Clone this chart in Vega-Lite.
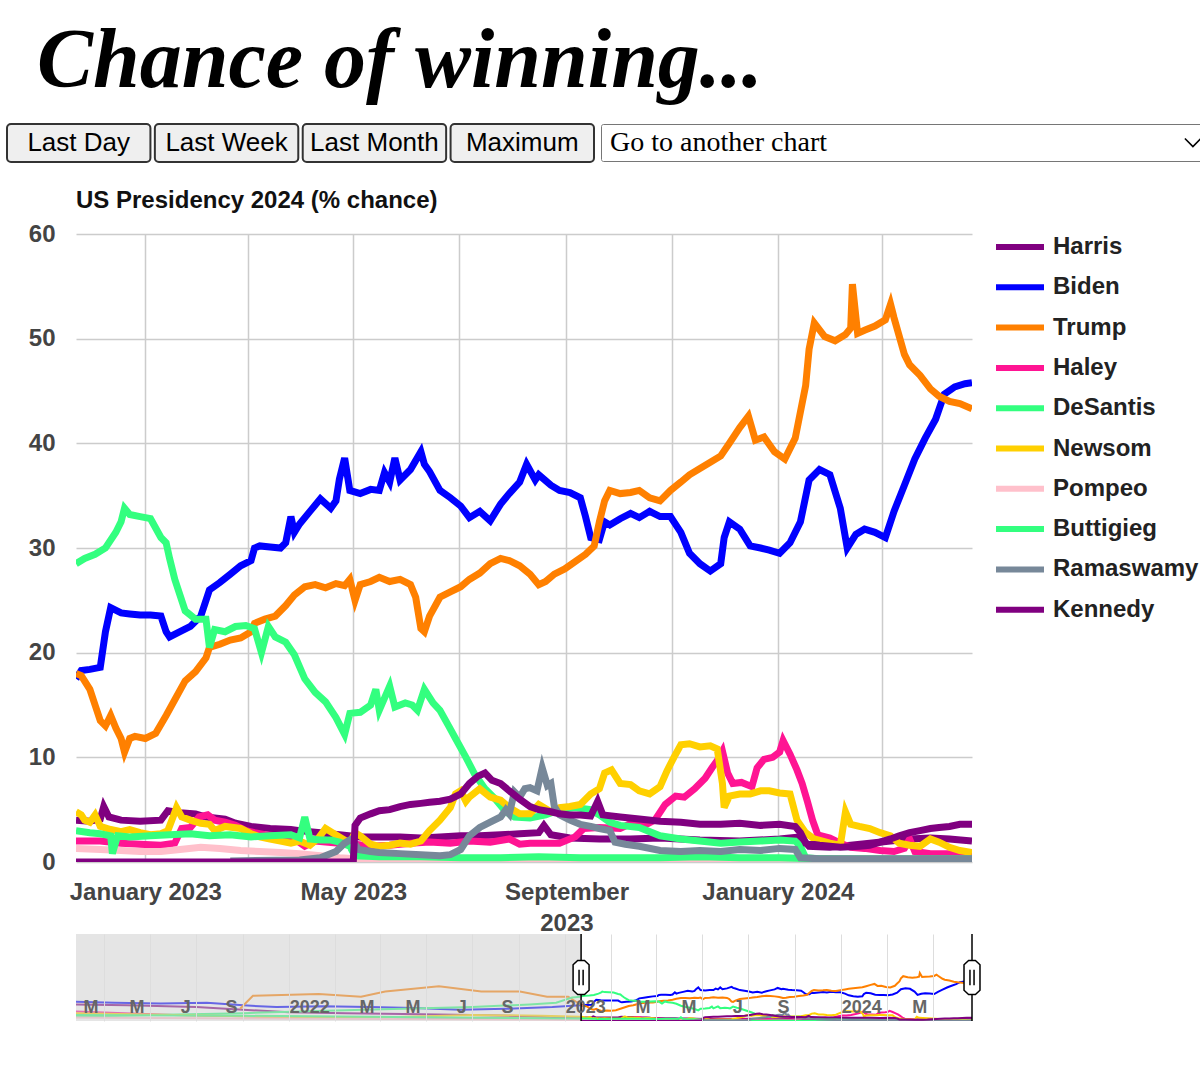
{
  "$schema": "https://vega.github.io/schema/vega-lite/v6.json",
  "background": "white",
  "padding": {"left": 6, "top": 20, "right": 0, "bottom": 0},
  "title": {"text": "Chance of winning...", "font": "Liberation Serif", "fontSize": 84, "fontStyle": "italic", "fontWeight": "bold", "color": "black", "anchor": "start", "frame": "bounds", "dx": 31, "offset": 18},
  "config": {"view": {"stroke": null}, "font": "Liberation Sans"},
  "datasets": {
    "recent": [
      {"date":"2022-11-22","name":"Harris","value":4},{"date":"2022-11-30","name":"Harris","value":3.9},{"date":"2022-12-06","name":"Harris","value":4.1},{"date":"2022-12-08","name":"Harris","value":5.3},{"date":"2022-12-11","name":"Harris","value":4.3},{"date":"2022-12-18","name":"Harris","value":4},{"date":"2022-12-29","name":"Harris","value":3.9},{"date":"2023-01-10","name":"Harris","value":4},{"date":"2023-01-14","name":"Harris","value":4.9},{"date":"2023-01-21","name":"Harris","value":4.7},{"date":"2023-01-30","name":"Harris","value":4.6},{"date":"2023-02-05","name":"Harris","value":4.3},{"date":"2023-02-16","name":"Harris","value":4.1},{"date":"2023-02-22","name":"Harris","value":3.7},{"date":"2023-03-03","name":"Harris","value":3.4},{"date":"2023-03-14","name":"Harris","value":3.2},{"date":"2023-03-26","name":"Harris","value":3.1},{"date":"2023-03-31","name":"Harris","value":3.0},{"date":"2023-04-12","name":"Harris","value":2.8},{"date":"2023-04-23","name":"Harris","value":2.6},{"date":"2023-05-05","name":"Harris","value":2.4},{"date":"2023-05-16","name":"Harris","value":2.4},{"date":"2023-05-28","name":"Harris","value":2.4},{"date":"2023-06-09","name":"Harris","value":2.3},{"date":"2023-06-20","name":"Harris","value":2.4},{"date":"2023-07-02","name":"Harris","value":2.5},{"date":"2023-07-13","name":"Harris","value":2.5},{"date":"2023-07-25","name":"Harris","value":2.6},{"date":"2023-08-05","name":"Harris","value":2.7},{"date":"2023-08-16","name":"Harris","value":2.8},{"date":"2023-08-19","name":"Harris","value":3.5},{"date":"2023-08-23","name":"Harris","value":2.6},{"date":"2023-09-03","name":"Harris","value":2.3},{"date":"2023-09-20","name":"Harris","value":2.2},{"date":"2023-10-08","name":"Harris","value":2.2},{"date":"2023-10-25","name":"Harris","value":2.3},{"date":"2023-11-17","name":"Harris","value":2.1},{"date":"2023-12-10","name":"Harris","value":2},{"date":"2024-01-02","name":"Harris","value":2.2},{"date":"2024-01-14","name":"Harris","value":2.4},{"date":"2024-01-19","name":"Harris","value":1.5},{"date":"2024-01-31","name":"Harris","value":1.4},{"date":"2024-02-12","name":"Harris","value":1.6},{"date":"2024-02-23","name":"Harris","value":1.8},{"date":"2024-03-06","name":"Harris","value":2},{"date":"2024-03-17","name":"Harris","value":2.2},{"date":"2024-03-29","name":"Harris","value":2.3},{"date":"2024-04-09","name":"Harris","value":2.2},{"date":"2024-04-22","name":"Harris","value":2},
      {"date":"2022-11-22","name":"Biden","value":17.5},{"date":"2022-11-25","name":"Biden","value":18.3},{"date":"2022-11-30","name":"Biden","value":18.4},{"date":"2022-12-06","name":"Biden","value":18.6},{"date":"2022-12-09","name":"Biden","value":22},{"date":"2022-12-12","name":"Biden","value":24.3},{"date":"2022-12-18","name":"Biden","value":23.8},{"date":"2022-12-23","name":"Biden","value":23.7},{"date":"2022-12-29","name":"Biden","value":23.6},{"date":"2023-01-04","name":"Biden","value":23.6},{"date":"2023-01-10","name":"Biden","value":23.5},{"date":"2023-01-13","name":"Biden","value":22},{"date":"2023-01-15","name":"Biden","value":21.5},{"date":"2023-01-21","name":"Biden","value":22},{"date":"2023-01-27","name":"Biden","value":22.5},{"date":"2023-02-02","name":"Biden","value":23.5},{"date":"2023-02-07","name":"Biden","value":26},{"date":"2023-02-13","name":"Biden","value":26.7},{"date":"2023-02-19","name":"Biden","value":27.5},{"date":"2023-02-25","name":"Biden","value":28.3},{"date":"2023-03-03","name":"Biden","value":28.8},{"date":"2023-03-05","name":"Biden","value":30},{"date":"2023-03-08","name":"Biden","value":30.2},{"date":"2023-03-14","name":"Biden","value":30.1},{"date":"2023-03-20","name":"Biden","value":30},{"date":"2023-03-23","name":"Biden","value":30.5},{"date":"2023-03-26","name":"Biden","value":33},{"date":"2023-03-28","name":"Biden","value":31.5},{"date":"2023-03-31","name":"Biden","value":32.3},{"date":"2023-04-06","name":"Biden","value":33.5},{"date":"2023-04-12","name":"Biden","value":34.7},{"date":"2023-04-18","name":"Biden","value":33.8},{"date":"2023-04-21","name":"Biden","value":34.5},{"date":"2023-04-23","name":"Biden","value":36.6},{"date":"2023-04-26","name":"Biden","value":38.6},{"date":"2023-04-29","name":"Biden","value":35.5},{"date":"2023-05-05","name":"Biden","value":35.2},{"date":"2023-05-11","name":"Biden","value":35.6},{"date":"2023-05-16","name":"Biden","value":35.5},{"date":"2023-05-19","name":"Biden","value":37.2},{"date":"2023-05-22","name":"Biden","value":36.3},{"date":"2023-05-25","name":"Biden","value":38.6},{"date":"2023-05-28","name":"Biden","value":36.5},{"date":"2023-06-03","name":"Biden","value":37.5},{"date":"2023-06-09","name":"Biden","value":39.2},{"date":"2023-06-11","name":"Biden","value":38},{"date":"2023-06-14","name":"Biden","value":37.3},{"date":"2023-06-20","name":"Biden","value":35.5},{"date":"2023-06-26","name":"Biden","value":34.8},{"date":"2023-07-02","name":"Biden","value":34},{"date":"2023-07-07","name":"Biden","value":32.9},{"date":"2023-07-13","name":"Biden","value":33.5},{"date":"2023-07-19","name":"Biden","value":32.6},{"date":"2023-07-25","name":"Biden","value":34.2},{"date":"2023-07-30","name":"Biden","value":35.2},{"date":"2023-08-05","name":"Biden","value":36.3},{"date":"2023-08-09","name":"Biden","value":38},{"date":"2023-08-14","name":"Biden","value":36.5},{"date":"2023-08-16","name":"Biden","value":37},{"date":"2023-08-23","name":"Biden","value":36},{"date":"2023-08-28","name":"Biden","value":35.5},{"date":"2023-09-03","name":"Biden","value":35.3},{"date":"2023-09-09","name":"Biden","value":34.8},{"date":"2023-09-12","name":"Biden","value":33},{"date":"2023-09-15","name":"Biden","value":31},{"date":"2023-09-20","name":"Biden","value":30.8},{"date":"2023-09-23","name":"Biden","value":32.5},{"date":"2023-09-26","name":"Biden","value":32.2},{"date":"2023-10-02","name":"Biden","value":32.8},{"date":"2023-10-08","name":"Biden","value":33.3},{"date":"2023-10-13","name":"Biden","value":32.9},{"date":"2023-10-19","name":"Biden","value":33.5},{"date":"2023-10-25","name":"Biden","value":33},{"date":"2023-10-31","name":"Biden","value":33},{"date":"2023-11-06","name":"Biden","value":31.5},{"date":"2023-11-11","name":"Biden","value":29.5},{"date":"2023-11-17","name":"Biden","value":28.5},{"date":"2023-11-23","name":"Biden","value":27.8},{"date":"2023-11-29","name":"Biden","value":28.5},{"date":"2023-12-01","name":"Biden","value":31},{"date":"2023-12-04","name":"Biden","value":32.5},{"date":"2023-12-10","name":"Biden","value":31.8},{"date":"2023-12-16","name":"Biden","value":30.2},{"date":"2023-12-22","name":"Biden","value":30},{"date":"2023-12-27","name":"Biden","value":29.8},{"date":"2024-01-02","name":"Biden","value":29.5},{"date":"2024-01-08","name":"Biden","value":30.5},{"date":"2024-01-14","name":"Biden","value":32.5},{"date":"2024-01-19","name":"Biden","value":36.5},{"date":"2024-01-25","name":"Biden","value":37.5},{"date":"2024-01-31","name":"Biden","value":37},{"date":"2024-02-06","name":"Biden","value":33.8},{"date":"2024-02-10","name":"Biden","value":30},{"date":"2024-02-15","name":"Biden","value":31.3},{"date":"2024-02-20","name":"Biden","value":31.8},{"date":"2024-02-26","name":"Biden","value":31.5},{"date":"2024-03-03","name":"Biden","value":31},{"date":"2024-03-08","name":"Biden","value":33.5},{"date":"2024-03-14","name":"Biden","value":36},{"date":"2024-03-20","name":"Biden","value":38.5},{"date":"2024-03-26","name":"Biden","value":40.5},{"date":"2024-04-01","name":"Biden","value":42.3},{"date":"2024-04-06","name":"Biden","value":44.7},{"date":"2024-04-12","name":"Biden","value":45.4},{"date":"2024-04-18","name":"Biden","value":45.7},{"date":"2024-04-22","name":"Biden","value":45.8},
      {"date":"2022-11-22","name":"Trump","value":18},{"date":"2022-11-25","name":"Trump","value":17.8},{"date":"2022-11-30","name":"Trump","value":16.5},{"date":"2022-12-03","name":"Trump","value":15},{"date":"2022-12-06","name":"Trump","value":13.5},{"date":"2022-12-09","name":"Trump","value":13},{"date":"2022-12-12","name":"Trump","value":14},{"date":"2022-12-15","name":"Trump","value":12.8},{"date":"2022-12-18","name":"Trump","value":11.8},{"date":"2022-12-20","name":"Trump","value":10.5},{"date":"2022-12-23","name":"Trump","value":11.8},{"date":"2022-12-26","name":"Trump","value":12},{"date":"2023-01-01","name":"Trump","value":11.8},{"date":"2023-01-07","name":"Trump","value":12.3},{"date":"2023-01-13","name":"Trump","value":14},{"date":"2023-01-18","name":"Trump","value":15.5},{"date":"2023-01-24","name":"Trump","value":17.3},{"date":"2023-01-30","name":"Trump","value":18.2},{"date":"2023-02-05","name":"Trump","value":19.5},{"date":"2023-02-07","name":"Trump","value":20.5},{"date":"2023-02-13","name":"Trump","value":20.8},{"date":"2023-02-19","name":"Trump","value":21.2},{"date":"2023-02-25","name":"Trump","value":21.4},{"date":"2023-03-03","name":"Trump","value":22},{"date":"2023-03-05","name":"Trump","value":22.8},{"date":"2023-03-11","name":"Trump","value":23.2},{"date":"2023-03-17","name":"Trump","value":23.5},{"date":"2023-03-23","name":"Trump","value":24.5},{"date":"2023-03-28","name":"Trump","value":25.5},{"date":"2023-04-03","name":"Trump","value":26.3},{"date":"2023-04-09","name":"Trump","value":26.5},{"date":"2023-04-15","name":"Trump","value":26.2},{"date":"2023-04-21","name":"Trump","value":26.6},{"date":"2023-04-26","name":"Trump","value":26.4},{"date":"2023-04-29","name":"Trump","value":27},{"date":"2023-05-02","name":"Trump","value":25},{"date":"2023-05-05","name":"Trump","value":26.5},{"date":"2023-05-11","name":"Trump","value":26.8},{"date":"2023-05-16","name":"Trump","value":27.2},{"date":"2023-05-22","name":"Trump","value":26.8},{"date":"2023-05-28","name":"Trump","value":27},{"date":"2023-06-03","name":"Trump","value":26.5},{"date":"2023-06-06","name":"Trump","value":25.3},{"date":"2023-06-09","name":"Trump","value":22.3},{"date":"2023-06-11","name":"Trump","value":22},{"date":"2023-06-14","name":"Trump","value":23.5},{"date":"2023-06-20","name":"Trump","value":25.3},{"date":"2023-06-26","name":"Trump","value":25.8},{"date":"2023-07-02","name":"Trump","value":26.3},{"date":"2023-07-07","name":"Trump","value":27},{"date":"2023-07-13","name":"Trump","value":27.6},{"date":"2023-07-19","name":"Trump","value":28.5},{"date":"2023-07-25","name":"Trump","value":29},{"date":"2023-07-30","name":"Trump","value":28.8},{"date":"2023-08-05","name":"Trump","value":28.3},{"date":"2023-08-11","name":"Trump","value":27.5},{"date":"2023-08-16","name":"Trump","value":26.5},{"date":"2023-08-20","name":"Trump","value":26.8},{"date":"2023-08-25","name":"Trump","value":27.5},{"date":"2023-08-31","name":"Trump","value":28},{"date":"2023-09-06","name":"Trump","value":28.7},{"date":"2023-09-12","name":"Trump","value":29.4},{"date":"2023-09-17","name":"Trump","value":30.2},{"date":"2023-09-20","name":"Trump","value":32.5},{"date":"2023-09-23","name":"Trump","value":34.5},{"date":"2023-09-26","name":"Trump","value":35.5},{"date":"2023-10-02","name":"Trump","value":35.2},{"date":"2023-10-08","name":"Trump","value":35.3},{"date":"2023-10-13","name":"Trump","value":35.5},{"date":"2023-10-19","name":"Trump","value":34.8},{"date":"2023-10-25","name":"Trump","value":34.5},{"date":"2023-10-31","name":"Trump","value":35.5},{"date":"2023-11-06","name":"Trump","value":36.3},{"date":"2023-11-11","name":"Trump","value":37},{"date":"2023-11-17","name":"Trump","value":37.6},{"date":"2023-11-23","name":"Trump","value":38.2},{"date":"2023-11-29","name":"Trump","value":38.8},{"date":"2023-12-04","name":"Trump","value":40},{"date":"2023-12-10","name":"Trump","value":41.5},{"date":"2023-12-15","name":"Trump","value":42.6},{"date":"2023-12-19","name":"Trump","value":40.3},{"date":"2023-12-24","name":"Trump","value":40.6},{"date":"2023-12-30","name":"Trump","value":39.2},{"date":"2024-01-05","name":"Trump","value":38.5},{"date":"2024-01-11","name":"Trump","value":40.5},{"date":"2024-01-14","name":"Trump","value":43},{"date":"2024-01-17","name":"Trump","value":45.5},{"date":"2024-01-19","name":"Trump","value":49},{"date":"2024-01-22","name":"Trump","value":51.5},{"date":"2024-01-28","name":"Trump","value":50.2},{"date":"2024-02-03","name":"Trump","value":49.8},{"date":"2024-02-09","name":"Trump","value":50.4},{"date":"2024-02-12","name":"Trump","value":51},{"date":"2024-02-13","name":"Trump","value":55.2},{"date":"2024-02-16","name":"Trump","value":50.5},{"date":"2024-02-20","name":"Trump","value":50.8},{"date":"2024-02-26","name":"Trump","value":51.2},{"date":"2024-03-03","name":"Trump","value":51.8},{"date":"2024-03-06","name":"Trump","value":53.3},{"date":"2024-03-08","name":"Trump","value":52},{"date":"2024-03-14","name":"Trump","value":48.5},{"date":"2024-03-17","name":"Trump","value":47.5},{"date":"2024-03-23","name":"Trump","value":46.5},{"date":"2024-03-29","name":"Trump","value":45.2},{"date":"2024-04-03","name":"Trump","value":44.5},{"date":"2024-04-09","name":"Trump","value":44},{"date":"2024-04-15","name":"Trump","value":43.8},{"date":"2024-04-22","name":"Trump","value":43.3},
      {"date":"2022-11-22","name":"Haley","value":2},{"date":"2022-12-06","name":"Haley","value":2},{"date":"2022-12-18","name":"Haley","value":1.8},{"date":"2022-12-29","name":"Haley","value":1.7},{"date":"2023-01-10","name":"Haley","value":1.6},{"date":"2023-01-18","name":"Haley","value":1.8},{"date":"2023-01-22","name":"Haley","value":3.2},{"date":"2023-01-27","name":"Haley","value":3.3},{"date":"2023-02-01","name":"Haley","value":4.3},{"date":"2023-02-06","name":"Haley","value":4.5},{"date":"2023-02-10","name":"Haley","value":4},{"date":"2023-02-16","name":"Haley","value":3.8},{"date":"2023-02-22","name":"Haley","value":3.5},{"date":"2023-02-28","name":"Haley","value":3},{"date":"2023-03-05","name":"Haley","value":2.8},{"date":"2023-03-11","name":"Haley","value":2.6},{"date":"2023-03-17","name":"Haley","value":2.5},{"date":"2023-03-23","name":"Haley","value":2.3},{"date":"2023-03-28","name":"Haley","value":2.2},{"date":"2023-04-03","name":"Haley","value":1.5},{"date":"2023-04-09","name":"Haley","value":2},{"date":"2023-04-15","name":"Haley","value":1.9},{"date":"2023-04-23","name":"Haley","value":1.8},{"date":"2023-05-02","name":"Haley","value":1.7},{"date":"2023-05-11","name":"Haley","value":1.5},{"date":"2023-05-22","name":"Haley","value":1.6},{"date":"2023-06-03","name":"Haley","value":1.8},{"date":"2023-06-14","name":"Haley","value":1.9},{"date":"2023-06-26","name":"Haley","value":1.8},{"date":"2023-07-07","name":"Haley","value":2},{"date":"2023-07-19","name":"Haley","value":1.9},{"date":"2023-07-30","name":"Haley","value":2.2},{"date":"2023-08-05","name":"Haley","value":1.7},{"date":"2023-08-11","name":"Haley","value":1.8},{"date":"2023-08-20","name":"Haley","value":1.8},{"date":"2023-08-28","name":"Haley","value":1.8},{"date":"2023-09-06","name":"Haley","value":2.4},{"date":"2023-09-11","name":"Haley","value":3.2},{"date":"2023-09-20","name":"Haley","value":3.3},{"date":"2023-10-02","name":"Haley","value":3.2},{"date":"2023-10-11","name":"Haley","value":3.9},{"date":"2023-10-16","name":"Haley","value":3.5},{"date":"2023-10-22","name":"Haley","value":4},{"date":"2023-10-28","name":"Haley","value":5.5},{"date":"2023-11-03","name":"Haley","value":6.3},{"date":"2023-11-08","name":"Haley","value":6.2},{"date":"2023-11-14","name":"Haley","value":7},{"date":"2023-11-20","name":"Haley","value":8},{"date":"2023-11-24","name":"Haley","value":9},{"date":"2023-11-27","name":"Haley","value":9.7},{"date":"2023-11-30","name":"Haley","value":10.6},{"date":"2023-12-03","name":"Haley","value":8.5},{"date":"2023-12-06","name":"Haley","value":7.5},{"date":"2023-12-11","name":"Haley","value":7.6},{"date":"2023-12-17","name":"Haley","value":7.2},{"date":"2023-12-20","name":"Haley","value":9},{"date":"2023-12-24","name":"Haley","value":9.8},{"date":"2023-12-29","name":"Haley","value":10},{"date":"2024-01-02","name":"Haley","value":10.5},{"date":"2024-01-04","name":"Haley","value":11.6},{"date":"2024-01-08","name":"Haley","value":10.3},{"date":"2024-01-12","name":"Haley","value":8.8},{"date":"2024-01-15","name":"Haley","value":7.5},{"date":"2024-01-18","name":"Haley","value":5.8},{"date":"2024-01-21","name":"Haley","value":4},{"date":"2024-01-24","name":"Haley","value":2.6},{"date":"2024-01-31","name":"Haley","value":2.3},{"date":"2024-02-06","name":"Haley","value":1.8},{"date":"2024-02-12","name":"Haley","value":1.4},{"date":"2024-02-20","name":"Haley","value":1.3},{"date":"2024-02-29","name":"Haley","value":1.1},{"date":"2024-03-08","name":"Haley","value":1},{"date":"2024-03-14","name":"Haley","value":1.3},{"date":"2024-03-17","name":"Haley","value":2.2},{"date":"2024-03-20","name":"Haley","value":1},{"date":"2024-03-29","name":"Haley","value":0.8},{"date":"2024-04-09","name":"Haley","value":0.8},{"date":"2024-04-22","name":"Haley","value":0.7},
      {"date":"2022-11-22","name":"DeSantis","value":28.5},{"date":"2022-11-27","name":"DeSantis","value":29},{"date":"2022-12-03","name":"DeSantis","value":29.4},{"date":"2022-12-09","name":"DeSantis","value":30},{"date":"2022-12-15","name":"DeSantis","value":31.5},{"date":"2022-12-18","name":"DeSantis","value":32.5},{"date":"2022-12-20","name":"DeSantis","value":33.8},{"date":"2022-12-23","name":"DeSantis","value":33.2},{"date":"2022-12-29","name":"DeSantis","value":33},{"date":"2023-01-04","name":"DeSantis","value":32.8},{"date":"2023-01-10","name":"DeSantis","value":31},{"date":"2023-01-13","name":"DeSantis","value":30.5},{"date":"2023-01-15","name":"DeSantis","value":29},{"date":"2023-01-18","name":"DeSantis","value":27},{"date":"2023-01-21","name":"DeSantis","value":25.5},{"date":"2023-01-24","name":"DeSantis","value":24},{"date":"2023-01-30","name":"DeSantis","value":23.2},{"date":"2023-02-05","name":"DeSantis","value":23.2},{"date":"2023-02-07","name":"DeSantis","value":20.5},{"date":"2023-02-10","name":"DeSantis","value":22.2},{"date":"2023-02-16","name":"DeSantis","value":22},{"date":"2023-02-22","name":"DeSantis","value":22.5},{"date":"2023-02-28","name":"DeSantis","value":22.6},{"date":"2023-03-05","name":"DeSantis","value":22.3},{"date":"2023-03-09","name":"DeSantis","value":20},{"date":"2023-03-13","name":"DeSantis","value":22.5},{"date":"2023-03-17","name":"DeSantis","value":21.5},{"date":"2023-03-23","name":"DeSantis","value":21},{"date":"2023-03-28","name":"DeSantis","value":19.8},{"date":"2023-04-03","name":"DeSantis","value":17.5},{"date":"2023-04-09","name":"DeSantis","value":16.2},{"date":"2023-04-15","name":"DeSantis","value":15.3},{"date":"2023-04-21","name":"DeSantis","value":13.8},{"date":"2023-04-26","name":"DeSantis","value":12.2},{"date":"2023-04-29","name":"DeSantis","value":14.2},{"date":"2023-05-05","name":"DeSantis","value":14.3},{"date":"2023-05-11","name":"DeSantis","value":15},{"date":"2023-05-14","name":"DeSantis","value":16.5},{"date":"2023-05-16","name":"DeSantis","value":14.5},{"date":"2023-05-22","name":"DeSantis","value":16.8},{"date":"2023-05-25","name":"DeSantis","value":14.8},{"date":"2023-05-31","name":"DeSantis","value":15.2},{"date":"2023-06-04","name":"DeSantis","value":15},{"date":"2023-06-07","name":"DeSantis","value":14.5},{"date":"2023-06-11","name":"DeSantis","value":16.5},{"date":"2023-06-16","name":"DeSantis","value":15.2},{"date":"2023-06-20","name":"DeSantis","value":14.5},{"date":"2023-06-25","name":"DeSantis","value":13},{"date":"2023-06-29","name":"DeSantis","value":11.8},{"date":"2023-07-05","name":"DeSantis","value":10},{"date":"2023-07-10","name":"DeSantis","value":8.4},{"date":"2023-07-16","name":"DeSantis","value":7},{"date":"2023-07-22","name":"DeSantis","value":6},{"date":"2023-07-28","name":"DeSantis","value":4.8},{"date":"2023-08-02","name":"DeSantis","value":4.3},{"date":"2023-08-11","name":"DeSantis","value":4.2},{"date":"2023-08-20","name":"DeSantis","value":4.5},{"date":"2023-08-28","name":"DeSantis","value":5},{"date":"2023-09-06","name":"DeSantis","value":5.2},{"date":"2023-09-15","name":"DeSantis","value":5},{"date":"2023-09-20","name":"DeSantis","value":4.5},{"date":"2023-09-26","name":"DeSantis","value":3.8},{"date":"2023-10-02","name":"DeSantis","value":3.5},{"date":"2023-10-13","name":"DeSantis","value":3.3},{"date":"2023-10-25","name":"DeSantis","value":2.5},{"date":"2023-11-06","name":"DeSantis","value":2.2},{"date":"2023-11-17","name":"DeSantis","value":2},{"date":"2023-11-29","name":"DeSantis","value":1.8},{"date":"2023-12-10","name":"DeSantis","value":1.9},{"date":"2023-12-22","name":"DeSantis","value":2},{"date":"2024-01-02","name":"DeSantis","value":2.1},{"date":"2024-01-11","name":"DeSantis","value":2},{"date":"2024-01-14","name":"DeSantis","value":1.5},{"date":"2024-01-17","name":"DeSantis","value":0.4},{"date":"2024-01-25","name":"DeSantis","value":0.3},{"date":"2024-02-12","name":"DeSantis","value":0.2},{"date":"2024-03-11","name":"DeSantis","value":0.2},{"date":"2024-04-22","name":"DeSantis","value":0.2},
      {"date":"2022-11-22","name":"Newsom","value":4.8},{"date":"2022-11-25","name":"Newsom","value":4.5},{"date":"2022-11-27","name":"Newsom","value":4},{"date":"2022-11-30","name":"Newsom","value":3.8},{"date":"2022-12-03","name":"Newsom","value":4.5},{"date":"2022-12-06","name":"Newsom","value":3.4},{"date":"2022-12-12","name":"Newsom","value":3.1},{"date":"2022-12-18","name":"Newsom","value":2.9},{"date":"2022-12-23","name":"Newsom","value":3.1},{"date":"2022-12-29","name":"Newsom","value":2.8},{"date":"2023-01-04","name":"Newsom","value":2.6},{"date":"2023-01-10","name":"Newsom","value":2.7},{"date":"2023-01-14","name":"Newsom","value":3},{"date":"2023-01-17","name":"Newsom","value":4.3},{"date":"2023-01-19","name":"Newsom","value":5.2},{"date":"2023-01-22","name":"Newsom","value":4.3},{"date":"2023-01-27","name":"Newsom","value":4},{"date":"2023-02-02","name":"Newsom","value":3.7},{"date":"2023-02-07","name":"Newsom","value":3.6},{"date":"2023-02-10","name":"Newsom","value":3},{"date":"2023-02-16","name":"Newsom","value":3.4},{"date":"2023-02-25","name":"Newsom","value":3.2},{"date":"2023-03-03","name":"Newsom","value":2.7},{"date":"2023-03-08","name":"Newsom","value":2.4},{"date":"2023-03-14","name":"Newsom","value":2.2},{"date":"2023-03-20","name":"Newsom","value":2},{"date":"2023-03-26","name":"Newsom","value":1.8},{"date":"2023-03-31","name":"Newsom","value":2},{"date":"2023-04-06","name":"Newsom","value":1.6},{"date":"2023-04-11","name":"Newsom","value":2.3},{"date":"2023-04-15","name":"Newsom","value":3.2},{"date":"2023-04-19","name":"Newsom","value":2.8},{"date":"2023-04-23","name":"Newsom","value":2.4},{"date":"2023-04-29","name":"Newsom","value":1.8},{"date":"2023-05-02","name":"Newsom","value":2.8},{"date":"2023-05-05","name":"Newsom","value":2.5},{"date":"2023-05-11","name":"Newsom","value":1.7},{"date":"2023-05-16","name":"Newsom","value":1.5},{"date":"2023-05-22","name":"Newsom","value":1.6},{"date":"2023-05-28","name":"Newsom","value":1.8},{"date":"2023-06-03","name":"Newsom","value":1.7},{"date":"2023-06-09","name":"Newsom","value":2},{"date":"2023-06-14","name":"Newsom","value":3},{"date":"2023-06-20","name":"Newsom","value":4},{"date":"2023-06-26","name":"Newsom","value":5.2},{"date":"2023-06-29","name":"Newsom","value":6.5},{"date":"2023-07-02","name":"Newsom","value":6.8},{"date":"2023-07-05","name":"Newsom","value":5.8},{"date":"2023-07-07","name":"Newsom","value":6.2},{"date":"2023-07-13","name":"Newsom","value":7},{"date":"2023-07-19","name":"Newsom","value":6.2},{"date":"2023-07-25","name":"Newsom","value":5.9},{"date":"2023-07-30","name":"Newsom","value":5.2},{"date":"2023-08-05","name":"Newsom","value":4.6},{"date":"2023-08-11","name":"Newsom","value":4.6},{"date":"2023-08-16","name":"Newsom","value":5.5},{"date":"2023-08-23","name":"Newsom","value":4.8},{"date":"2023-08-28","name":"Newsom","value":5.2},{"date":"2023-09-03","name":"Newsom","value":5.3},{"date":"2023-09-09","name":"Newsom","value":5.5},{"date":"2023-09-15","name":"Newsom","value":6.5},{"date":"2023-09-20","name":"Newsom","value":7},{"date":"2023-09-23","name":"Newsom","value":8.5},{"date":"2023-09-27","name":"Newsom","value":8.8},{"date":"2023-10-02","name":"Newsom","value":7.5},{"date":"2023-10-08","name":"Newsom","value":7.4},{"date":"2023-10-13","name":"Newsom","value":6.8},{"date":"2023-10-19","name":"Newsom","value":6.5},{"date":"2023-10-25","name":"Newsom","value":7.2},{"date":"2023-10-29","name":"Newsom","value":8.7},{"date":"2023-11-02","name":"Newsom","value":10},{"date":"2023-11-06","name":"Newsom","value":11.2},{"date":"2023-11-11","name":"Newsom","value":11.3},{"date":"2023-11-17","name":"Newsom","value":11},{"date":"2023-11-23","name":"Newsom","value":11.1},{"date":"2023-11-27","name":"Newsom","value":10.8},{"date":"2023-11-30","name":"Newsom","value":7.5},{"date":"2023-12-01","name":"Newsom","value":5.2},{"date":"2023-12-04","name":"Newsom","value":6.3},{"date":"2023-12-10","name":"Newsom","value":6.5},{"date":"2023-12-16","name":"Newsom","value":6.5},{"date":"2023-12-22","name":"Newsom","value":6.8},{"date":"2023-12-27","name":"Newsom","value":6.8},{"date":"2024-01-02","name":"Newsom","value":6.6},{"date":"2024-01-08","name":"Newsom","value":6.5},{"date":"2024-01-12","name":"Newsom","value":4},{"date":"2024-01-17","name":"Newsom","value":2.8},{"date":"2024-01-22","name":"Newsom","value":2.2},{"date":"2024-01-31","name":"Newsom","value":1.8},{"date":"2024-02-06","name":"Newsom","value":1.6},{"date":"2024-02-09","name":"Newsom","value":4.8},{"date":"2024-02-12","name":"Newsom","value":3.6},{"date":"2024-02-17","name":"Newsom","value":3.4},{"date":"2024-02-23","name":"Newsom","value":3.2},{"date":"2024-02-29","name":"Newsom","value":2.8},{"date":"2024-03-06","name":"Newsom","value":2.5},{"date":"2024-03-11","name":"Newsom","value":1.8},{"date":"2024-03-17","name":"Newsom","value":1.6},{"date":"2024-03-23","name":"Newsom","value":1.5},{"date":"2024-03-29","name":"Newsom","value":2.2},{"date":"2024-04-03","name":"Newsom","value":1.9},{"date":"2024-04-09","name":"Newsom","value":1.4},{"date":"2024-04-15","name":"Newsom","value":1.1},{"date":"2024-04-22","name":"Newsom","value":0.9},
      {"date":"2022-11-22","name":"Pompeo","value":1.3},{"date":"2022-12-06","name":"Pompeo","value":1.2},{"date":"2022-12-18","name":"Pompeo","value":1.1},{"date":"2022-12-29","name":"Pompeo","value":1.0},{"date":"2023-01-10","name":"Pompeo","value":1.0},{"date":"2023-01-21","name":"Pompeo","value":1.2},{"date":"2023-02-02","name":"Pompeo","value":1.4},{"date":"2023-02-13","name":"Pompeo","value":1.3},{"date":"2023-02-25","name":"Pompeo","value":1.1},{"date":"2023-03-08","name":"Pompeo","value":1.0},{"date":"2023-03-20","name":"Pompeo","value":0.9},{"date":"2023-03-31","name":"Pompeo","value":0.8},{"date":"2023-04-12","name":"Pompeo","value":0.6},{"date":"2023-04-23","name":"Pompeo","value":0.4},{"date":"2023-05-02","name":"Pompeo","value":0.3},{"date":"2023-05-28","name":"Pompeo","value":0.2},{"date":"2023-07-25","name":"Pompeo","value":0.2},{"date":"2023-09-20","name":"Pompeo","value":0.2},{"date":"2023-11-17","name":"Pompeo","value":0.2},{"date":"2024-01-14","name":"Pompeo","value":0.2},{"date":"2024-04-22","name":"Pompeo","value":0.2},
      {"date":"2022-11-22","name":"Buttigieg","value":3},{"date":"2022-11-30","name":"Buttigieg","value":2.8},{"date":"2022-12-06","name":"Buttigieg","value":2.7},{"date":"2022-12-12","name":"Buttigieg","value":2.5},{"date":"2022-12-13","name":"Buttigieg","value":0.8},{"date":"2022-12-16","name":"Buttigieg","value":2.5},{"date":"2022-12-23","name":"Buttigieg","value":2.4},{"date":"2023-01-04","name":"Buttigieg","value":2.5},{"date":"2023-01-15","name":"Buttigieg","value":2.6},{"date":"2023-01-27","name":"Buttigieg","value":2.7},{"date":"2023-02-07","name":"Buttigieg","value":2.5},{"date":"2023-02-19","name":"Buttigieg","value":2.6},{"date":"2023-03-03","name":"Buttigieg","value":2.4},{"date":"2023-03-14","name":"Buttigieg","value":2.5},{"date":"2023-03-26","name":"Buttigieg","value":2.6},{"date":"2023-03-31","name":"Buttigieg","value":2.3},{"date":"2023-04-03","name":"Buttigieg","value":4.3},{"date":"2023-04-06","name":"Buttigieg","value":2.2},{"date":"2023-04-12","name":"Buttigieg","value":2.1},{"date":"2023-04-18","name":"Buttigieg","value":2.1},{"date":"2023-04-23","name":"Buttigieg","value":1.9},{"date":"2023-04-29","name":"Buttigieg","value":1.5},{"date":"2023-05-02","name":"Buttigieg","value":0.6},{"date":"2023-05-16","name":"Buttigieg","value":0.5},{"date":"2023-06-09","name":"Buttigieg","value":0.5},{"date":"2023-07-02","name":"Buttigieg","value":0.4},{"date":"2023-07-25","name":"Buttigieg","value":0.4},{"date":"2023-08-16","name":"Buttigieg","value":0.5},{"date":"2023-09-09","name":"Buttigieg","value":0.4},{"date":"2023-10-02","name":"Buttigieg","value":0.4},{"date":"2023-10-25","name":"Buttigieg","value":0.4},{"date":"2023-11-17","name":"Buttigieg","value":0.5},{"date":"2023-12-10","name":"Buttigieg","value":0.4},{"date":"2024-01-02","name":"Buttigieg","value":0.4},{"date":"2024-01-25","name":"Buttigieg","value":0.3},{"date":"2024-03-11","name":"Buttigieg","value":0.3},{"date":"2024-04-22","name":"Buttigieg","value":0.3},
      {"date":"2023-02-19","name":"Ramaswamy","value":0.1},{"date":"2023-03-31","name":"Ramaswamy","value":0.2},{"date":"2023-04-12","name":"Ramaswamy","value":0.4},{"date":"2023-04-21","name":"Ramaswamy","value":1},{"date":"2023-04-26","name":"Ramaswamy","value":1.8},{"date":"2023-04-30","name":"Ramaswamy","value":2.2},{"date":"2023-05-04","name":"Ramaswamy","value":1.2},{"date":"2023-05-11","name":"Ramaswamy","value":1},{"date":"2023-05-16","name":"Ramaswamy","value":0.9},{"date":"2023-05-28","name":"Ramaswamy","value":0.8},{"date":"2023-06-09","name":"Ramaswamy","value":0.7},{"date":"2023-06-20","name":"Ramaswamy","value":0.6},{"date":"2023-06-26","name":"Ramaswamy","value":0.7},{"date":"2023-07-02","name":"Ramaswamy","value":1.2},{"date":"2023-07-07","name":"Ramaswamy","value":2.5},{"date":"2023-07-13","name":"Ramaswamy","value":3.3},{"date":"2023-07-19","name":"Ramaswamy","value":3.8},{"date":"2023-07-25","name":"Ramaswamy","value":4.3},{"date":"2023-07-28","name":"Ramaswamy","value":5},{"date":"2023-07-30","name":"Ramaswamy","value":4.6},{"date":"2023-08-02","name":"Ramaswamy","value":6.7},{"date":"2023-08-05","name":"Ramaswamy","value":6.2},{"date":"2023-08-08","name":"Ramaswamy","value":7},{"date":"2023-08-11","name":"Ramaswamy","value":7.1},{"date":"2023-08-15","name":"Ramaswamy","value":6.8},{"date":"2023-08-18","name":"Ramaswamy","value":9},{"date":"2023-08-21","name":"Ramaswamy","value":7.3},{"date":"2023-08-23","name":"Ramaswamy","value":7.5},{"date":"2023-08-25","name":"Ramaswamy","value":5.3},{"date":"2023-08-28","name":"Ramaswamy","value":4.5},{"date":"2023-09-03","name":"Ramaswamy","value":4},{"date":"2023-09-09","name":"Ramaswamy","value":3.6},{"date":"2023-09-15","name":"Ramaswamy","value":3.4},{"date":"2023-09-20","name":"Ramaswamy","value":3.2},{"date":"2023-09-26","name":"Ramaswamy","value":3},{"date":"2023-09-29","name":"Ramaswamy","value":1.9},{"date":"2023-10-05","name":"Ramaswamy","value":1.7},{"date":"2023-10-13","name":"Ramaswamy","value":1.5},{"date":"2023-10-25","name":"Ramaswamy","value":1.1},{"date":"2023-11-06","name":"Ramaswamy","value":1},{"date":"2023-11-17","name":"Ramaswamy","value":1.1},{"date":"2023-11-29","name":"Ramaswamy","value":1},{"date":"2023-12-10","name":"Ramaswamy","value":1.2},{"date":"2023-12-22","name":"Ramaswamy","value":1.1},{"date":"2024-01-02","name":"Ramaswamy","value":1.3},{"date":"2024-01-11","name":"Ramaswamy","value":1.2},{"date":"2024-01-14","name":"Ramaswamy","value":0.4},{"date":"2024-01-25","name":"Ramaswamy","value":0.3},{"date":"2024-04-22","name":"Ramaswamy","value":0.3},
      {"date":"2022-11-22","name":"Kennedy","value":0},{"date":"2023-04-29","name":"Kennedy","value":0},{"date":"2023-05-01","name":"Kennedy","value":0},{"date":"2023-05-02","name":"Kennedy","value":3.5},{"date":"2023-05-05","name":"Kennedy","value":4.2},{"date":"2023-05-11","name":"Kennedy","value":4.6},{"date":"2023-05-16","name":"Kennedy","value":4.9},{"date":"2023-05-22","name":"Kennedy","value":5},{"date":"2023-05-28","name":"Kennedy","value":5.3},{"date":"2023-06-03","name":"Kennedy","value":5.5},{"date":"2023-06-09","name":"Kennedy","value":5.6},{"date":"2023-06-14","name":"Kennedy","value":5.7},{"date":"2023-06-20","name":"Kennedy","value":5.8},{"date":"2023-06-26","name":"Kennedy","value":6},{"date":"2023-07-02","name":"Kennedy","value":6.5},{"date":"2023-07-07","name":"Kennedy","value":7.5},{"date":"2023-07-12","name":"Kennedy","value":8.2},{"date":"2023-07-16","name":"Kennedy","value":8.5},{"date":"2023-07-20","name":"Kennedy","value":7.8},{"date":"2023-07-25","name":"Kennedy","value":7.5},{"date":"2023-07-30","name":"Kennedy","value":6.8},{"date":"2023-08-05","name":"Kennedy","value":6},{"date":"2023-08-11","name":"Kennedy","value":5.3},{"date":"2023-08-16","name":"Kennedy","value":5},{"date":"2023-08-23","name":"Kennedy","value":4.8},{"date":"2023-08-28","name":"Kennedy","value":4.6},{"date":"2023-09-03","name":"Kennedy","value":4.5},{"date":"2023-09-09","name":"Kennedy","value":4.5},{"date":"2023-09-15","name":"Kennedy","value":4.4},{"date":"2023-09-19","name":"Kennedy","value":5.8},{"date":"2023-09-22","name":"Kennedy","value":4.5},{"date":"2023-10-02","name":"Kennedy","value":4.3},{"date":"2023-10-13","name":"Kennedy","value":4.1},{"date":"2023-10-25","name":"Kennedy","value":3.9},{"date":"2023-11-06","name":"Kennedy","value":3.8},{"date":"2023-11-17","name":"Kennedy","value":3.6},{"date":"2023-11-29","name":"Kennedy","value":3.6},{"date":"2023-12-10","name":"Kennedy","value":3.7},{"date":"2023-12-22","name":"Kennedy","value":3.5},{"date":"2024-01-02","name":"Kennedy","value":3.6},{"date":"2024-01-11","name":"Kennedy","value":3.4},{"date":"2024-01-14","name":"Kennedy","value":2.8},{"date":"2024-01-17","name":"Kennedy","value":1.8},{"date":"2024-01-25","name":"Kennedy","value":1.6},{"date":"2024-02-06","name":"Kennedy","value":1.4},{"date":"2024-02-17","name":"Kennedy","value":1.5},{"date":"2024-02-23","name":"Kennedy","value":1.6},{"date":"2024-02-29","name":"Kennedy","value":1.9},{"date":"2024-03-06","name":"Kennedy","value":2.2},{"date":"2024-03-11","name":"Kennedy","value":2.5},{"date":"2024-03-17","name":"Kennedy","value":2.8},{"date":"2024-03-23","name":"Kennedy","value":3},{"date":"2024-03-29","name":"Kennedy","value":3.2},{"date":"2024-04-03","name":"Kennedy","value":3.3},{"date":"2024-04-09","name":"Kennedy","value":3.4},{"date":"2024-04-15","name":"Kennedy","value":3.6},{"date":"2024-04-22","name":"Kennedy","value":3.6}
    ],
    "earlier": [
      {"date":"2021-01-23","name":"Harris","value":19},{"date":"2021-04-01","name":"Harris","value":18},{"date":"2021-07-01","name":"Harris","value":16},{"date":"2021-09-01","name":"Harris","value":13},{"date":"2021-11-01","name":"Harris","value":10},{"date":"2022-01-15","name":"Harris","value":9},{"date":"2022-04-01","name":"Harris","value":8},{"date":"2022-07-01","name":"Harris","value":7},{"date":"2022-10-01","name":"Harris","value":5},{"date":"2022-11-21","name":"Harris","value":4},
      {"date":"2021-01-23","name":"Biden","value":22},{"date":"2021-03-15","name":"Biden","value":21},{"date":"2021-05-15","name":"Biden","value":20},{"date":"2021-07-15","name":"Biden","value":21},{"date":"2021-09-01","name":"Biden","value":18},{"date":"2021-10-15","name":"Biden","value":16},{"date":"2021-12-15","name":"Biden","value":17},{"date":"2022-02-15","name":"Biden","value":16},{"date":"2022-04-15","name":"Biden","value":15},{"date":"2022-06-15","name":"Biden","value":13},{"date":"2022-08-15","name":"Biden","value":14},{"date":"2022-10-15","name":"Biden","value":16},{"date":"2022-11-21","name":"Biden","value":18},
      {"date":"2021-08-28","name":"Trump","value":14},{"date":"2021-09-14","name":"Trump","value":29},{"date":"2021-12-10","name":"Trump","value":31},{"date":"2022-02-04","name":"Trump","value":28},{"date":"2022-03-08","name":"Trump","value":34},{"date":"2022-05-18","name":"Trump","value":40},{"date":"2022-07-13","name":"Trump","value":34},{"date":"2022-09-02","name":"Trump","value":34},{"date":"2022-10-08","name":"Trump","value":28},{"date":"2022-11-05","name":"Trump","value":28},{"date":"2022-11-21","name":"Trump","value":19},
      {"date":"2021-01-23","name":"Haley","value":11},{"date":"2021-06-01","name":"Haley","value":7},{"date":"2021-12-01","name":"Haley","value":4},{"date":"2022-06-01","name":"Haley","value":3},{"date":"2022-11-21","name":"Haley","value":2},
      {"date":"2021-01-23","name":"DeSantis","value":5},{"date":"2021-05-01","name":"DeSantis","value":7},{"date":"2021-09-01","name":"DeSantis","value":9},{"date":"2022-01-01","name":"DeSantis","value":12},{"date":"2022-04-01","name":"DeSantis","value":14},{"date":"2022-07-01","name":"DeSantis","value":16},{"date":"2022-09-15","name":"DeSantis","value":19},{"date":"2022-10-20","name":"DeSantis","value":21},{"date":"2022-11-10","name":"DeSantis","value":27},{"date":"2022-11-21","name":"DeSantis","value":28},
      {"date":"2021-01-23","name":"Newsom","value":9},{"date":"2021-06-01","name":"Newsom","value":7},{"date":"2021-10-01","name":"Newsom","value":5},{"date":"2022-03-01","name":"Newsom","value":4},{"date":"2022-07-01","name":"Newsom","value":7},{"date":"2022-10-01","name":"Newsom","value":6},{"date":"2022-11-21","name":"Newsom","value":5},
      {"date":"2021-01-23","name":"Pompeo","value":4},{"date":"2021-09-01","name":"Pompeo","value":3},{"date":"2022-06-01","name":"Pompeo","value":2},{"date":"2022-11-21","name":"Pompeo","value":1.3},
      {"date":"2021-01-23","name":"Buttigieg","value":7},{"date":"2021-09-01","name":"Buttigieg","value":6},{"date":"2022-06-01","name":"Buttigieg","value":4},{"date":"2022-11-21","name":"Buttigieg","value":2.9}
    ]
  },
  "concat": [
    {
      "hconcat": [
        {
          "width": 518,
          "height": 38,
          "data": {"values": [{"label": "Last Day"}, {"label": "Last Week"}, {"label": "Last Month"}, {"label": "Maximum"}]},
          "encoding": {"x": {"field": "label", "type": "nominal", "sort": null, "axis": null, "scale": {"paddingInner": 0.03, "paddingOuter": 0, "range": [-69, 518]}}},
          "layer": [
            {"mark": {"type": "rect", "fill": "#efefef", "stroke": "#333333", "strokeWidth": 2, "cornerRadius": 4}},
            {"mark": {"type": "text", "font": "Liberation Sans", "fontSize": 26, "color": "black"}, "encoding": {"text": {"field": "label"}}}
          ]
        },
        {
          "width": 601,
          "height": 37,
          "view": {"fill": "white", "stroke": "#767676", "strokeWidth": 1, "cornerRadius": 2},
          "data": {"values": [{"part": "label", "text": "Go to another chart"}, {"part": "arrow", "text": ""}]},
          "encoding": {"x": {"field": "part", "type": "nominal", "axis": null, "scale": {"type": "point", "domain": ["label", "arrow"], "padding": 0.0156}}},
          "layer": [
            {"transform": [{"filter": "datum.part == 'label'"}], "mark": {"type": "text", "align": "left", "font": "Liberation Serif", "fontSize": 28, "color": "black"}, "encoding": {"text": {"field": "text"}}},
            {"transform": [{"filter": "datum.part == 'arrow'"}], "mark": {"type": "point", "shape": "M-1,-0.5L0,0.5L1,-0.5", "size": 256, "filled": false, "stroke": "black", "strokeWidth": 1.6, "opacity": 1}}
          ]
        }
      ],
      "spacing": 5
    },
    {
      "vconcat": [
        {
          "width": 896,
          "height": 628,
          "title": {"text": "US Presidency 2024 (% chance)", "anchor": "start", "frame": "group", "offset": 9, "font": "Liberation Sans", "fontSize": 24, "fontWeight": "bold", "color": "#111111"},
          "data": {"name": "recent"},
          "mark": {"type": "line", "strokeWidth": 7, "clip": true},
          "encoding": {
            "x": {"field": "date", "type": "temporal",
              "scale": {"type": "utc", "domain": [{"year": 2022, "month": 11, "date": 22, "utc": true}, {"year": 2024, "month": 4, "date": 22, "utc": true}]},
              "axis": {"title": null, "ticks": false, "domain": false, "grid": true, "gridColor": "#cccccc", "gridWidth": 1.5,
                "values": [{"year": 2023, "month": 1, "date": 1, "utc": true}, {"year": 2023, "month": 3, "date": 1, "utc": true}, {"year": 2023, "month": 5, "date": 1, "utc": true}, {"year": 2023, "month": 7, "date": 1, "utc": true}, {"year": 2023, "month": 9, "date": 1, "utc": true}, {"year": 2023, "month": 11, "date": 1, "utc": true}, {"year": 2024, "month": 1, "date": 1, "utc": true}, {"year": 2024, "month": 3, "date": 1, "utc": true}],
                "labelExpr": "utcmonth(datum.value) == 0 ? 'January ' + utcyear(datum.value) : utcmonth(datum.value) == 4 ? 'May ' + utcyear(datum.value) : utcmonth(datum.value) == 8 ? ['September', '' + utcyear(datum.value)] : ''",
                "labelFont": "Liberation Sans", "labelFontSize": 24, "labelFontWeight": "bold", "labelColor": "#444444", "labelPadding": 18, "labelLineHeight": 31, "labelOverlap": false, "labelFlush": false, "labelBound": false}},
            "y": {"field": "value", "type": "quantitative", "scale": {"domain": [0, 60]},
              "axis": {"title": null, "ticks": false, "domain": false, "values": [0, 10, 20, 30, 40, 50, 60], "gridColor": "#cccccc", "gridWidth": 1.5,
                "labelFont": "Liberation Sans", "labelFontSize": 24, "labelFontWeight": "bold", "labelColor": "#444444", "labelPadding": 21, "minExtent": 70, "maxExtent": 70}},
            "color": {"field": "name", "type": "nominal",
              "scale": {"domain": ["Harris", "Biden", "Trump", "Haley", "DeSantis", "Newsom", "Pompeo", "Buttigieg", "Ramaswamy", "Kennedy"],
                "range": ["#800080", "#0000ff", "#ff8000", "#ff1493", "#33ff7f", "#ffd000", "#ffc0cb", "#33ff7f", "#778899", "#800080"]},
              "legend": {"title": null, "orient": "right", "offset": 35, "padding": 0, "symbolType": "M-2.4,0L2.4,0", "symbolSize": 400, "symbolStrokeWidth": 6,
                "labelFont": "Liberation Sans", "labelFontSize": 24, "labelFontWeight": "bold", "labelColor": "#222222", "labelOffset": 20, "rowPadding": 15.3, "labelLimit": 300}}
          }
        },
        {
          "width": 896,
          "height": 87,
          "layer": [
            {
              "data": {"name": "earlier"},
              "mark": {"type": "line", "strokeWidth": 2, "clip": true},
              "encoding": {
                "x": {"field": "date", "type": "temporal",
                  "scale": {"type": "utc", "domain": [{"year": 2021, "month": 1, "date": 23, "utc": true}, {"year": 2024, "month": 4, "date": 22, "utc": true}]},
                  "axis": {"title": null, "ticks": false, "domain": false, "grid": true, "gridColor": "#dddddd", "gridWidth": 1, "zindex": 1,
                    "values": [{"year": 2021, "month": 3, "date": 1, "utc": true}, {"year": 2021, "month": 5, "date": 1, "utc": true}, {"year": 2021, "month": 7, "date": 1, "utc": true}, {"year": 2021, "month": 9, "date": 1, "utc": true}, {"year": 2021, "month": 11, "date": 1, "utc": true}, {"year": 2022, "month": 1, "date": 1, "utc": true}, {"year": 2022, "month": 3, "date": 1, "utc": true}, {"year": 2022, "month": 5, "date": 1, "utc": true}, {"year": 2022, "month": 7, "date": 1, "utc": true}, {"year": 2022, "month": 9, "date": 1, "utc": true}, {"year": 2022, "month": 11, "date": 1, "utc": true}, {"year": 2023, "month": 1, "date": 1, "utc": true}, {"year": 2023, "month": 3, "date": 1, "utc": true}, {"year": 2023, "month": 5, "date": 1, "utc": true}, {"year": 2023, "month": 7, "date": 1, "utc": true}, {"year": 2023, "month": 9, "date": 1, "utc": true}, {"year": 2023, "month": 11, "date": 1, "utc": true}, {"year": 2024, "month": 1, "date": 1, "utc": true}, {"year": 2024, "month": 3, "date": 1, "utc": true}],
                    "labelExpr": "utcmonth(datum.value) == 0 ? '' + utcyear(datum.value) : utcmonth(datum.value) == 10 ? '' : ['J','F','M','A','M','J','J','A','S','O','N','D'][utcmonth(datum.value)]",
                    "labelFont": "Liberation Sans", "labelFontSize": 18, "labelFontWeight": "bold", "labelColor": "#666666", "labelAlign": "right", "labelOffset": -6, "labelBaseline": "middle", "labelPadding": -14, "labelOverlap": false, "labelFlush": false, "labelBound": false}},
                "y": {"field": "value", "type": "quantitative", "scale": {"domain": [0, 100]}, "axis": null},
                "color": {"field": "name", "type": "nominal", "legend": null,
                  "scale": {"domain": ["Harris", "Biden", "Trump", "Haley", "DeSantis", "Newsom", "Pompeo", "Buttigieg", "Ramaswamy", "Kennedy"],
                    "range": ["#800080", "#0000ff", "#ff8000", "#ff1493", "#33ff7f", "#ffd000", "#ffc0cb", "#33ff7f", "#778899", "#800080"]}}
              }
            },
            {
              "data": {"name": "recent"},
              "mark": {"type": "line", "strokeWidth": 2, "clip": true},
              "encoding": {
                "x": {"field": "date", "type": "temporal"},
                "y": {"field": "value", "type": "quantitative"},
                "color": {"field": "name", "type": "nominal", "legend": null}
              }
            },
            {
              "data": {"values": [{"from": "2021-01-01", "to": "2022-11-22"}]},
              "mark": {"type": "rect", "fill": "#cccccc", "opacity": 0.5, "clip": true},
              "encoding": {"x": {"field": "from", "type": "temporal"}, "x2": {"field": "to"}, "y": {"datum": 100}, "y2": {"datum": 0}}
            },
            {
              "data": {"values": [{"edge": "2022-11-22"}, {"edge": "2024-04-22"}]},
              "mark": {"type": "rule", "color": "black", "strokeWidth": 1.5},
              "encoding": {"x": {"field": "edge", "type": "temporal"}, "y": {"datum": 0}, "y2": {"datum": 100}}
            },
            {
              "data": {"values": [{"handle": "2022-11-22"}, {"handle": "2024-04-22"}]},
              "mark": {"type": "point", "shape": "M-0.47,-0.75L-0.2,-1L0.2,-1L0.47,-0.75L0.47,0.75L0.2,1L-0.2,1L-0.47,0.75Z M-0.12,-0.45L-0.12,0.45 M0.12,-0.45L0.12,0.45", "size": 1156, "filled": true, "fill": "white", "stroke": "black", "strokeWidth": 1.5, "opacity": 1},
              "encoding": {"x": {"field": "handle", "type": "temporal"}, "y": {"datum": 50}}
            }
          ]
        }
      ],
      "spacing": 72,
      "bounds": "flush",
      "resolve": {"scale": {"x": "independent", "y": "independent", "color": "independent"}}
    }
  ],
  "columns": 1,
  "align": "none",
  "spacing": 26
}
